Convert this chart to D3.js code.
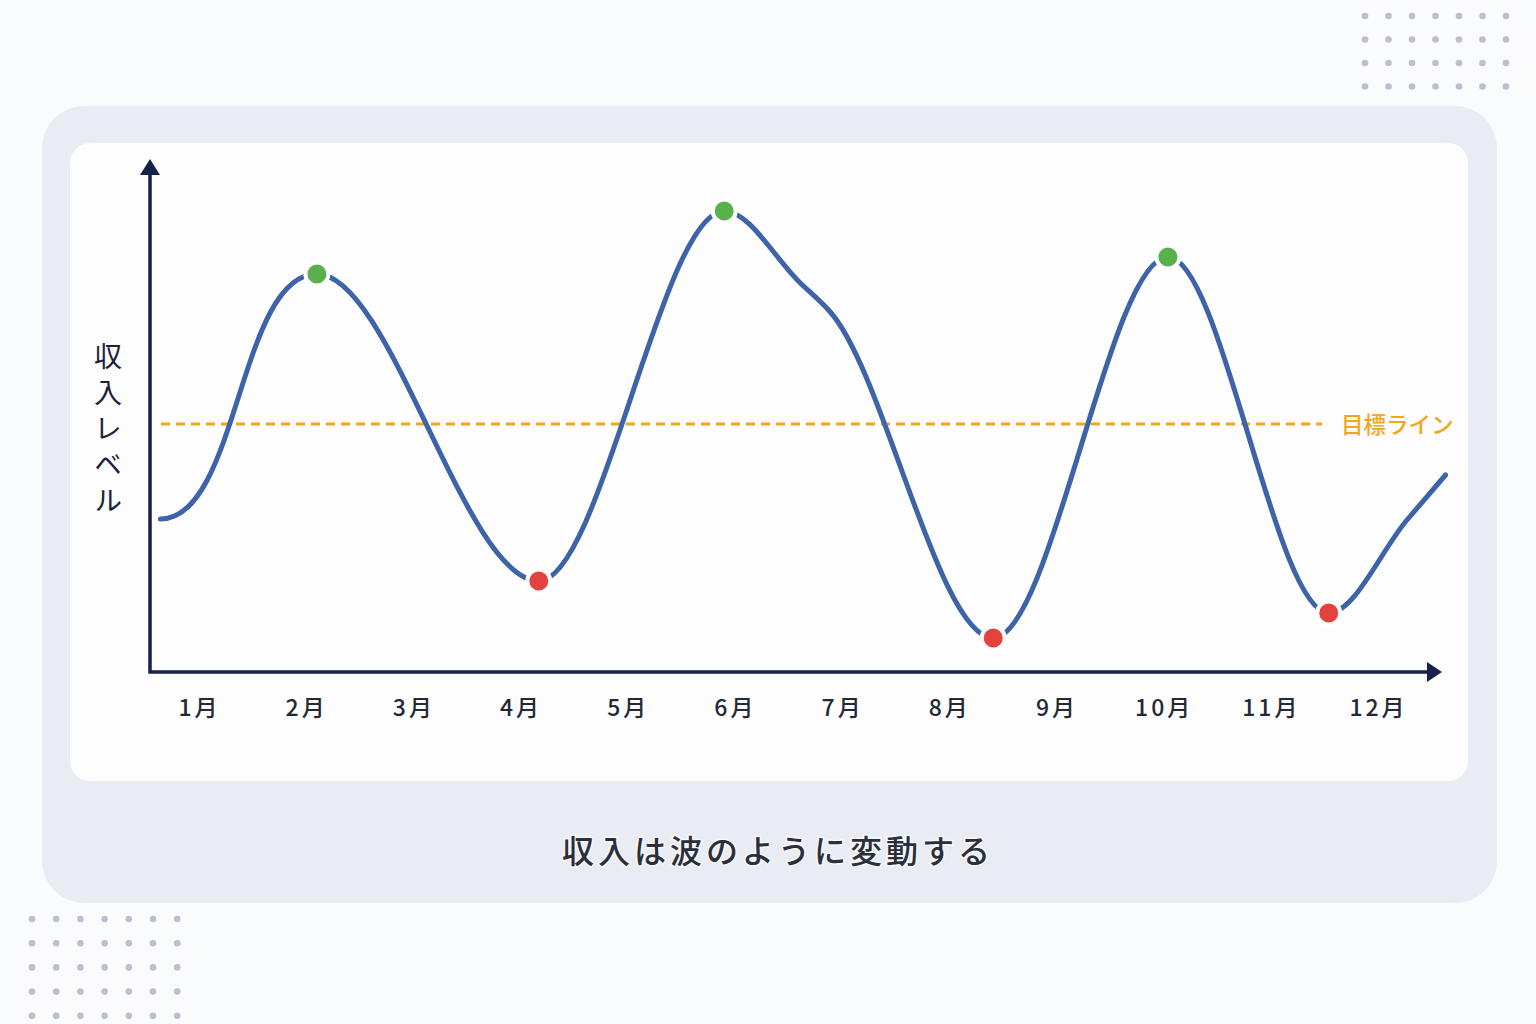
<!DOCTYPE html>
<html lang="ja">
<head>
<meta charset="utf-8">
<script src="https://cdn.jsdelivr.net/npm/d3@7"></script>
<style>
	html, body { margin: 0; padding: 0; background: #fafbfc; }
	svg { display: block; font-family: "Noto Sans CJK JP", "Noto Sans", sans-serif; }
</style>
</head>
<body>
<svg id="chart"></svg>
<script>
// months on the x axis
const months = [1, 2, 3, 4, 5, 6, 7, 8, 9, 10, 11, 12];
const monthLabels = months.map((m) => `${m}月`);

// income curve (month position, level 0-100)
const curveMonths = [0.64, 2.10, 4.17, 5.90, 6.61, 6.89, 8.41, 10.04, 11.54, 12.27, 12.63];
const curveLevels = [30.6, 79.6, 18.2, 92.2, 77.8, 72.0, 6.8, 83.0, 11.8, 30.4, 39.4];
// which curve points are marked: peak / trough
const curveMarks = [null, "peak", "trough", "peak", null, null, "trough", "peak", "trough", null, null];

const targetLevel = 49.6;
const targetLabel = "目標ライン";
const yLabel = "収入レベル";
const caption = "収入は波のように変動する";

const width = 1536;
const height = 1024;

const colors = {
	axis: "#15224a",
	line: "#3d63a8",
	peak: "#5bb04e",
	trough: "#e3433f",
	target: "#f4a51a",
	text: "#232a36",
	panel: "#e9ecf3",
	inner: "#fdfdfe",
	dots: "#b8c0d2"
};

const svg = d3.select("#chart")
	.attr("width", width)
	.attr("height", height)
	.attr("viewBox", `0 0 ${width} ${height}`);

// background decoration dots
function dotGrid(x0, y0, cols, rows, step) {
	const cells = [];
	for (let r = 0; r < rows; r++)
		for (let c = 0; c < cols; c++)
			cells.push([x0 + c * step, y0 + r * step]);
	svg.append("g")
		.selectAll("circle")
		.data(cells)
		.enter()
		.append("circle")
		.attr("cx", (d) => d[0])
		.attr("cy", (d) => d[1])
		.attr("r", 3.3)
		.attr("fill", colors.dots);
}
dotGrid(1365, 16, 7, 4, 23.5);
dotGrid(32, 919, 7, 5, 24.2);

// panels
svg.append("rect")
	.attr("x", 42).attr("y", 106)
	.attr("width", 1455).attr("height", 797)
	.attr("rx", 42)
	.attr("fill", colors.panel);
svg.append("rect")
	.attr("x", 70).attr("y", 143)
	.attr("width", 1398).attr("height", 638)
	.attr("rx", 20)
	.attr("fill", colors.inner);

const x = d3.scaleLinear().domain([1, 12]).range([199, 1378]);
const y = d3.scaleLinear().domain([0, 100]).range([672, 172]);

const originX = 150;
const originY = y(0);

// month labels via axis
const xAxis = d3.axisBottom(x)
	.tickValues(months)
	.tickSize(0)
	.tickPadding(0)
	.tickFormat((d, i) => monthLabels[i]);
const axisG = svg.append("g")
	.attr("transform", `translate(0, ${originY})`)
	.call(xAxis);
axisG.select(".domain").remove();
axisG.selectAll("text")
	.attr("dy", null)
	.attr("y", 44)
	.attr("font-size", 23)
	.attr("font-weight", 500)
	.attr("letter-spacing", 3)
	.attr("fill", colors.text)
	.attr("font-family", "\"Noto Sans CJK JP\", sans-serif");

// target line
svg.append("line")
	.attr("x1", 161).attr("x2", 1322)
	.attr("y1", y(targetLevel)).attr("y2", y(targetLevel))
	.attr("stroke", colors.target)
	.attr("stroke-width", 3)
	.attr("stroke-dasharray", "9 6");
svg.append("text")
	.attr("x", 1341)
	.attr("y", y(targetLevel) + 9)
	.attr("font-size", 22.5)
	.attr("font-weight", 500)
	.attr("fill", colors.target)
	.text(targetLabel);

// axes with arrow heads
const axisLines = svg.append("g").attr("fill", colors.axis).attr("stroke", colors.axis);
axisLines.append("path")
	.attr("fill", "none")
	.attr("stroke-width", 3.5)
	.attr("d", `M ${originX},170 L ${originX},${originY} L 1430,${originY}`);
axisLines.append("path")
	.attr("stroke", "none")
	.attr("d", `M ${originX},159 L ${originX + 10},175 L ${originX - 10},175 Z`);
axisLines.append("path")
	.attr("stroke", "none")
	.attr("d", `M 1442,${originY} L 1427,${originY - 10} L 1427,${originY + 10} Z`);

// y axis label
svg.append("text")
	.attr("x", 108)
	.attr("y", 432)
	.attr("text-anchor", "middle")
	.attr("font-size", 28)
	.attr("letter-spacing", 8)
	.attr("fill", "#1b2238")
	.style("writing-mode", "vertical-rl")
	.text(yLabel);

// income curve: the lead-in eases out of a flat start, the rest is monotone
const points = curveMonths.map((m, i) => ({ m, v: curveLevels[i], mark: curveMarks[i] }));
const firstPeak = curveMarks.indexOf("peak");
const splitX = x(curveMonths[firstPeak]);

svg.append("clipPath")
	.attr("id", "lead-clip")
	.append("rect")
	.attr("x", 0).attr("y", 0)
	.attr("width", splitX).attr("height", height);
svg.append("clipPath")
	.attr("id", "rest-clip")
	.append("rect")
	.attr("x", splitX).attr("y", 0)
	.attr("width", width - splitX).attr("height", height);

const leadIn = d3.line()
	.x((d) => x(d.m))
	.y((d) => y(d.v))
	.curve(d3.curveBumpX);
const line = d3.line()
	.x((d) => x(d.m))
	.y((d) => y(d.v))
	.curve(d3.curveMonotoneX);
const curveG = svg.append("g")
	.attr("fill", "none")
	.attr("stroke", colors.line)
	.attr("stroke-width", 5)
	.attr("stroke-linecap", "round");
curveG.append("path")
	.datum(points.slice(0, firstPeak + 2))
	.attr("clip-path", "url(#lead-clip)")
	.attr("d", leadIn);
curveG.append("path")
	.datum(points)
	.attr("clip-path", "url(#rest-clip)")
	.attr("d", line);

svg.append("g")
	.selectAll("circle")
	.data(points.filter((d) => d.mark))
	.enter()
	.append("circle")
	.attr("cx", (d) => x(d.m))
	.attr("cy", (d) => y(d.v))
	.attr("r", 11.5)
	.attr("fill", (d) => d.mark === "peak" ? colors.peak : colors.trough)
	.attr("stroke", "#ffffff")
	.attr("stroke-width", 4);

// caption
svg.append("text")
	.attr("x", 778)
	.attr("y", 863)
	.attr("text-anchor", "middle")
	.attr("font-size", 32)
	.attr("font-weight", 500)
	.attr("letter-spacing", 4)
	.attr("fill", "#2a2f3a")
	.style("paint-order", "stroke")
	.attr("stroke", "#f6f7fa")
	.attr("stroke-width", 3)
	.text(caption);
</script>
</body>
</html>
